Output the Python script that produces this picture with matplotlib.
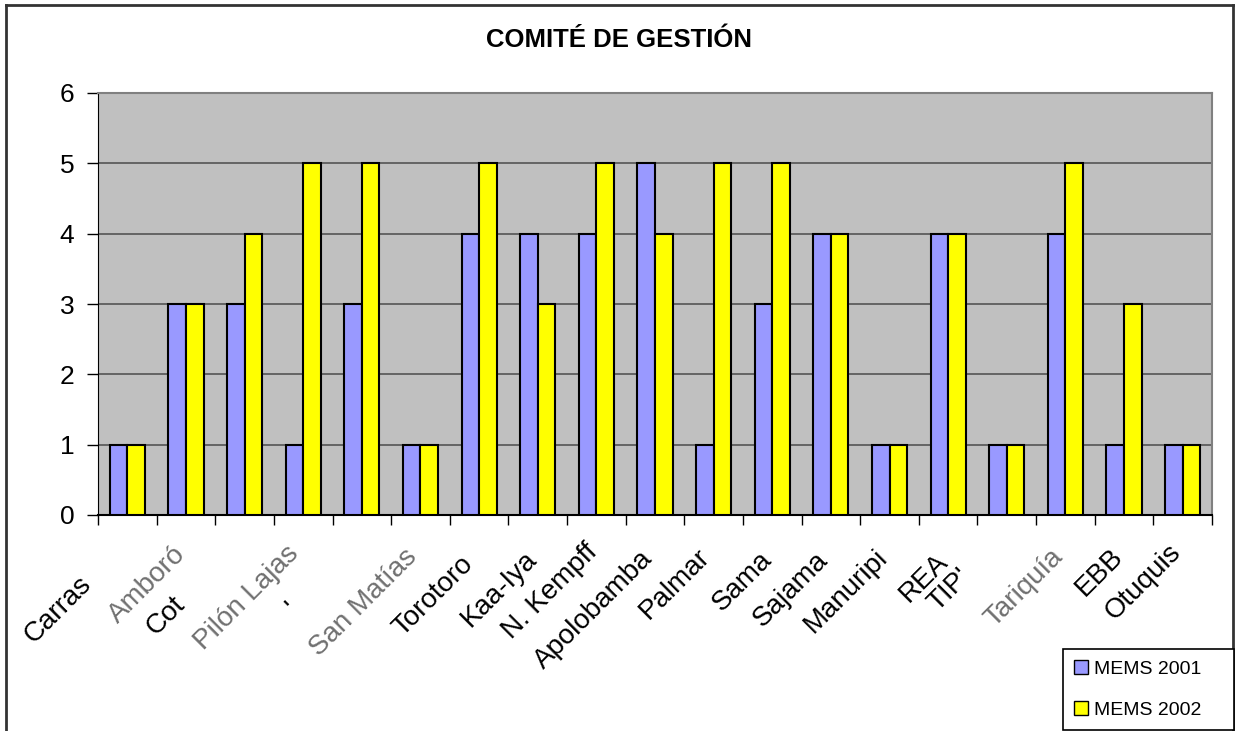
import matplotlib
matplotlib.use("Agg")
from matplotlib import pyplot as plt
from matplotlib.lines import Line2D
from matplotlib.patches import Patch
from matplotlib.transforms import offset_copy
import numpy as np

plt.rcParams['font.family'] = ['Liberation Sans', 'DejaVu Sans']

labels = ['Carras', 'Amboró', 'Cot', 'Pilón Lajas', "'", 'San Matías', 'Torotoro',
          'Kaa-Iya', 'N. Kempff', 'Apolobamba', 'Palmar', 'Sama', 'Sajama',
          'Manuripi', 'REA', "TIP'", 'Tariquía', 'EBB', 'Otuquis']
mems_2001 = [1, 3, 3, 1, 3, 1, 4, 4, 4, 5, 1, 3, 4, 1, 4, 1, 4, 1, 1]
mems_2002 = [1, 3, 4, 5, 5, 1, 5, 3, 5, 4, 5, 5, 4, 1, 4, 1, 5, 3, 1]

# labels that came out garbled/grey in the source picture
grey_labels = ['Amboró', 'Pilón Lajas', 'San Matías', 'Tariquía']
# where each label's top-right corner sits (pixels left of centre, pixels below axis)
label_dx = [-49, -14, -73, -18, -77, -17, -19, -14, -12, -15, -17, -13, -16, -15, -13, -49, -16, -14, -15]
label_dy = [56, 26, 76, 26, 82, 29, 36, 31, 24, 31, 29, 32, 32, 29, 34, 49, 29, 29, 24]

fig = plt.figure(figsize=(12.36, 7.31), dpi=100)
ax = fig.add_axes([98 / 1236, 1 - 515 / 731, (1212 - 98) / 1236, (515 - 93) / 731])
ax.set_facecolor('#C0C0C0')

x = np.arange(len(labels))
w = 0.3
ax.bar(x - w / 2, mems_2001, w, color='#9999FF', edgecolor='black', linewidth=1.5, zorder=3)
ax.bar(x + w / 2, mems_2002, w, color='#FFFF00', edgecolor='black', linewidth=1.5, zorder=3)

ax.set_xlim(-0.5, len(labels) - 0.5)
ax.set_ylim(0, 6)
ax.set_yticks(range(7))
ax.tick_params(axis='y', labelsize=19, length=8, width=1, direction='out', pad=9)
ax.yaxis.grid(True, color='#555555', linewidth=1.2, zorder=1)
ax.set_xticks(np.arange(-0.5, len(labels), 1))
ax.set_xticklabels([])
ax.tick_params(axis='x', length=7, width=1, direction='out')

ax.spines['left'].set_color('black')
ax.spines['bottom'].set_color('black')
ax.spines['bottom'].set_linewidth(1.5)
ax.spines['top'].set_color('#808080')
ax.spines['top'].set_linewidth(1.5)
ax.spines['right'].set_color('#808080')
ax.spines['right'].set_linewidth(1.5)

for i, lab in enumerate(labels):
    tr = offset_copy(ax.get_xaxis_transform(), fig=fig, x=label_dx[i], y=-label_dy[i], units='dots')
    col = '#707070' if lab in grey_labels else 'black'
    ax.text(i, 0, lab, transform=tr, rotation=45, rotation_mode='anchor',
            ha='right', va='top', fontsize=20, color=col)

fig.text(619 / 1236, 1 - 40 / 731, 'COMITÉ DE GESTIÓN', ha='center', va='center',
         fontsize=18.5, fontweight='bold')

handles = [Patch(facecolor='#9999FF', edgecolor='black'),
           Patch(facecolor='#FFFF00', edgecolor='black')]
leg = fig.legend(handles, ['MEMS 2001', 'MEMS 2002'], loc='upper left',
                 bbox_to_anchor=(1063 / 1236, 1 - 649 / 731, 171 / 1236, 0),
                 mode='expand', fontsize=14,
                 handlelength=0.75, handleheight=0.75, handletextpad=0.3,
                 labelspacing=1.2, borderpad=0.55, borderaxespad=0,
                 fancybox=False, framealpha=1)
leg.get_frame().set_edgecolor('black')
leg.get_frame().set_linewidth(1.2)

# outer chart border (bottom edge is off the picture)
fig.add_artist(Line2D([6 / 1236, 6 / 1236], [0, 1 - 5 / 731], color='#333333', linewidth=2))
fig.add_artist(Line2D([6 / 1236, 1233 / 1236], [1 - 5 / 731, 1 - 5 / 731], color='#333333', linewidth=2))
fig.add_artist(Line2D([1233 / 1236, 1233 / 1236], [0, 1 - 5 / 731], color='#333333', linewidth=2))

fig.savefig('out.png', dpi=100)
